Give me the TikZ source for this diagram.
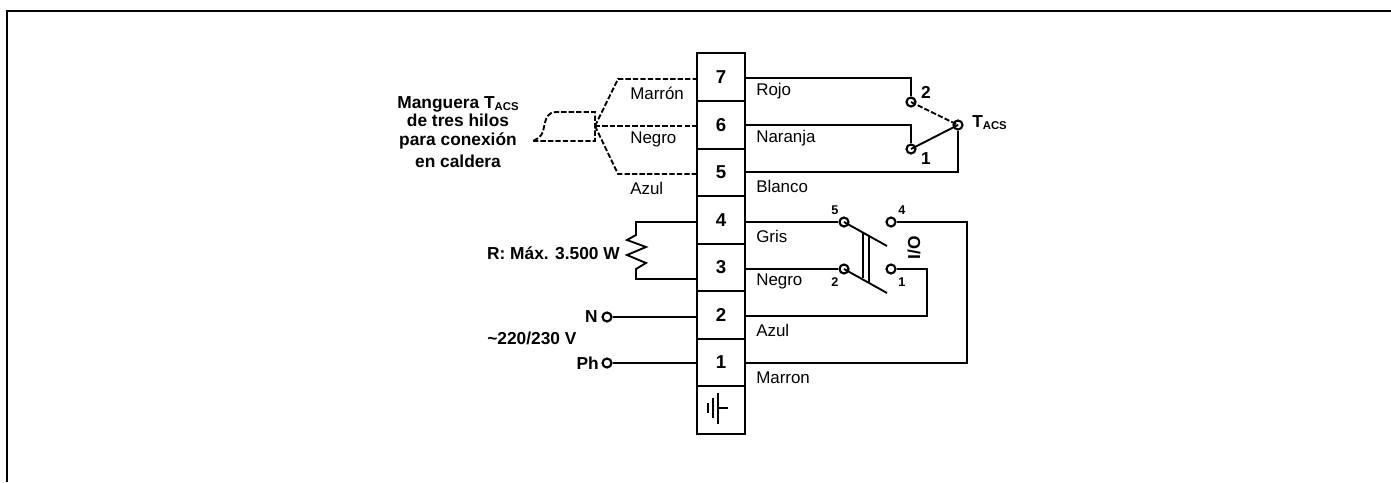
\documentclass[tikz,border=0pt]{standalone}
\usepackage{fontspec}
\setmainfont{Liberation Sans}
\usetikzlibrary{shapes}

\tikzset{
  wire/.style={line width=1.4pt},
  dashwire/.style={line width=1.4pt,dash pattern=on 4pt off 1.6pt},
  cellbox/.style={draw,line width=1.4pt,rectangle,minimum width=36pt,minimum height=35.6pt,inner sep=0pt,font=\bfseries\fontsize{14}{16}\selectfont},
  term/.style={draw,line width=1.6pt,circle,minimum size=6.75pt,inner sep=0pt},
  colorlabel/.style={anchor=base west,inner sep=0.75pt,font=\fontsize{12.7}{15}\selectfont},
  boldlabel/.style={inner sep=0.75pt,font=\bfseries\fontsize{13}{13}\selectfont},
  tinylabel/.style={inner sep=0.75pt,font=\bfseries\fontsize{9.5}{10}\selectfont}
}
\newcommand{\tacs}{T\raisebox{-1.5pt}{\fontsize{8.5}{9}\selectfont ACS}}

\begin{document}
\begin{tikzpicture}[x=0.75pt,y=0.75pt,yscale=-1,xscale=1]
\useasboundingbox (0,0) rectangle (1391,482);

%Frame
\draw [line width=1.5pt] (7,482) -- (7,11) -- (1391,11);

%Terminal strip
\draw (721,77) node [cellbox] (t7) {7};
\draw (721,125) node [cellbox] (t6) {6};
\draw (721,172.500) node [cellbox] (t5) {5};
\draw (721,220) node [cellbox] (t4) {4};
\draw (721,267.500) node [cellbox] (t3) {3};
\draw (721,315) node [cellbox] (t2) {2};
\draw (721,362.500) node [cellbox] (t1) {1};
\draw (721,410) node [cellbox] (t0) {};

%Earth symbol
\draw [wire] (718,393) -- (718,424) (718,408) -- (728,408);
\draw [wire] (713,398) -- (713,418);
\draw [wire] (708,403) -- (708,413);

%Strip ends
\coordinate (l7) at (697,79);
\coordinate (l6) at (697,126);
\coordinate (l5) at (697,174);
\coordinate (l4) at (697,222);
\coordinate (l3) at (697,279);
\coordinate (l2) at (697,317);
\coordinate (l1) at (697,363);
\coordinate (r7) at (745,78);
\coordinate (r6) at (745,125);
\coordinate (r5) at (745,172);
\coordinate (r4) at (745,222);
\coordinate (r3) at (745,269);
\coordinate (r2) at (745,316);
\coordinate (r1) at (745,363);

%Terminals
\draw (911,102) node [term] (c2) {};
\draw (911,149) node [term] (c1) {};
\draw (958,125) node [term] (ct) {};
\draw (844,222) node [term] (s5) {};
\draw (891,222) node [term] (s4) {};
\draw (844,269) node [term] (s2) {};
\draw (891,269) node [term] (s1) {};
\draw (607,317) node [term] (cn) {};
\draw (607,363) node [term] (cp) {};

%Sensor wires
\draw [wire] (r7) -| (c2.north);
\draw [wire] (r6) -| (c1.north);
\draw [wire] (r5) -| (ct.south);
\draw [wire] (c1.center) -- (ct.center);
\draw [dashwire] (c2.center) -- (ct.center);

%Switch wires
\draw [wire] (r4) -- (s5.west);
\draw [wire] (r3) -- (s2.west);
\draw [wire] (s4.east) -- (967,222) |- (r1);
\draw [wire] (s1.east) -- (927,269) |- (r2);
\draw [wire] (s5.center) -- (887,246);
\draw [wire] (s2.center) -- (887,293);
\draw [line width=1pt] (863,233) -- (863,278) (869,235) -- (869,282);

%Resistor and mains
\draw [wire, line join=miter] (l4) -- (636,222) -- (636,235) -- (627,240) -- (646,247) -- (627,255) -- (646,263) -- (636,269) -- (636,279) -- (l3);
\draw [wire] (cn.east) -- (l2);
\draw [wire] (cp.east) -- (l1);

%Hose
\coordinate (hub) at (595,126);
\draw [dashwire] (533,141) -- (595,141) -- (hub) -- (595,112) -- (557,112) .. controls (547,112) and (546,118) .. (544,127) .. controls (543,134) and (541,137) .. (533,141);
\draw [dashwire] (hub) -- (618,79) -- (l7);
\draw [dashwire] (hub) -- (l6);
\draw [dashwire] (hub) -- (618,174) -- (l5);

% Text Node
\draw (629,99) node [colorlabel] (lmarron) {Marrón};
\draw (629,143) node [colorlabel] (lnegroa) {Negro};
\draw (629,194) node [colorlabel] (lazula) {Azul};
\draw (755,95) node [colorlabel] (lrojo) {Rojo};
\draw (755,142) node [colorlabel] (lnaranja) {Naranja};
\draw (755,192) node [colorlabel] (lblanco) {Blanco};
\draw (755,242) node [colorlabel] (lgris) {Gris};
\draw (755,285) node [colorlabel] (lnegrob) {Negro};
\draw (755,336) node [colorlabel] (lazulb) {Azul};
\draw (755,383) node [colorlabel] (lmarronb) {Marron};

% Text Node
\draw (458,132) node [boldlabel,align=center] (lhose) {Manguera \tacs\\[0.75pt]de tres hilos\\[0.75pt]para conexión\\[3.75pt]en caldera\hspace{6pt}};
\draw (621,253) node [boldlabel,anchor=east] (lres) {R: Máx. 3.500 W};
\draw (599,317) node [boldlabel,anchor=east] (ln) {N};
\draw (486,338) node [boldlabel,anchor=west] (lv) {\textasciitilde220/230 V};
\draw (600,363) node [boldlabel,anchor=east] (lph) {Ph};
\draw (971,127) node [boldlabel,anchor=base west] (ltacs) {\tacs};
\draw (926,92) node [boldlabel] (n2) {2};
\draw (926,159) node [boldlabel] (n1) {1};
\draw (914,248) node [boldlabel,rotate=90] (lio) {I/O};

% Text Node
\draw (835,210) node [tinylabel] (n5) {5};
\draw (902,210) node [tinylabel] (n4) {4};
\draw (835,282) node [tinylabel] (n2b) {2};
\draw (902,282) node [tinylabel] (n1b) {1};

\end{tikzpicture}
\end{document}
